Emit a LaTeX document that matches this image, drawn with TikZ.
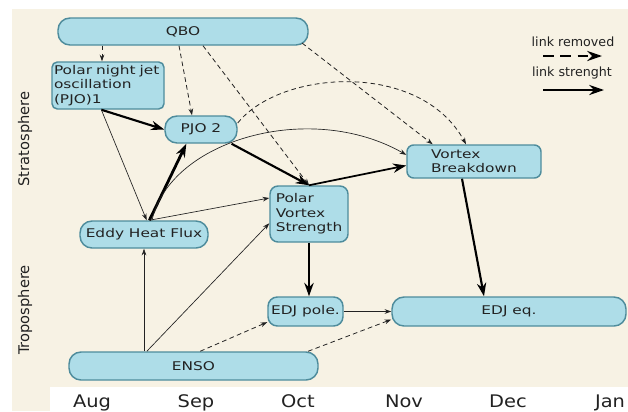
\documentclass[tikz,border=0pt]{standalone}
\usepackage{fontspec}
\setmainfont{DejaVu Sans}
\newfontfamily\boxfont[FakeStretch=1.28]{DejaVu Sans}
\newfontfamily\monthfont[FakeStretch=1.12]{DejaVu Sans}
\usetikzlibrary{arrows.meta}
\definecolor{paper}{RGB}{247,242,228}
\definecolor{boxfill}{RGB}{174,221,232}
\definecolor{boxline}{RGB}{78,140,156}
\definecolor{ink}{RGB}{34,34,34}
\begin{document}
\begin{tikzpicture}[x=0.75pt,y=-0.75pt,
  nodebox/.style={draw=boxline,fill=boxfill,line width=1.1pt,text=ink,inner sep=1.5pt,
    font=\boxfont\fontsize{9}{10.8}\selectfont},
  pill/.style={nodebox,rounded corners=9pt},
  card/.style={nodebox,rounded corners=5pt,align=left},
  weak/.style={-{Stealth[length=5pt,width=3.5pt]},line width=0.5pt,draw=ink},
  strong/.style={-{Stealth[length=10pt,width=7pt]},line width=1.6pt,draw=black},
  removed/.style={-{Stealth[length=5pt,width=3.5pt]},line width=0.6pt,draw=ink,dash pattern=on 3.5pt off 2.5pt},
  legendtext/.style={font=\fontsize{9.5}{11}\selectfont,text=ink},
  month/.style={font=\monthfont\fontsize{13}{15}\selectfont,text=ink,anchor=base},
  sphere/.style={rotate=90,font=\fontsize{11}{13}\selectfont,text=ink}]
\useasboundingbox (0,0) rectangle (628,411);
\fill[paper] (12,9) rectangle (628,411);
\fill[white] (50,387) rectangle (628,411);

\node[pill,minimum width=187.5pt,minimum height=20.25pt] (qbo) at (183,31.5) {QBO};
\node[card,rounded corners=4pt,minimum width=84pt,minimum height=35.25pt,text width=81pt] (pjo1) at (108,85.5) {Polar night jet\\oscillation\\(PJO)1};
\node[pill,minimum width=54pt,minimum height=20.25pt] (pjo2) at (201,129.5) {PJO 2};
\node[pill,minimum width=96pt,minimum height=20.25pt] (ehf) at (144,234.5) {Eddy Heat Flux};
\node[card,rounded corners=6pt,minimum width=58.5pt,minimum height=42pt] (pvs) at (309,214) {Polar\\Vortex\\Strength};
\node[card,minimum width=100.5pt,minimum height=24.75pt] (vb) at (474,161.5) {Vortex\\Breakdown};
\node[pill,rounded corners=7pt,minimum width=56.25pt,minimum height=21.75pt] (edjp) at (305.5,311.5) {EDJ pole.};
\node[pill,minimum width=175.5pt,minimum height=21.75pt] (edjq) at (509,311.5) {EDJ eq.};
\node[pill,minimum width=186.75pt,minimum height=21pt] (enso) at (193.5,366) {ENSO};

\node[sphere] (strat) at (25,139) {Stratosphere};
\node[sphere] (trop) at (25,310) {Troposphere};
\foreach \m/\x in {Aug/92,Sep/196,Oct/298,Nov/404,Dec/508,Jan/610}
  \node[month] (\m) at (\x,407) {\m};

\node[legendtext] (lrm) at (573,42) {link removed};
\node[legendtext] (lst) at (572,73) {link strenght};
\coordinate (rmA) at (543,56);
\coordinate (rmB) at (602,56);
\coordinate (stA) at (543,90);
\coordinate (stB) at (604,90);
\path (rmA) edge[-{Stealth[length=11pt,width=7.5pt]},line width=1.9pt,dash pattern=on 8pt off 5pt] (rmB);
\path (stA) edge[-{Stealth[length=11pt,width=7.5pt]},line width=1.9pt] (stB);

\path ([xshift=-60.75pt]qbo.south) edge[removed] ([xshift=-4.5pt]pjo1.north);
\path ([xshift=-3pt]qbo.south) edge[removed] ([xshift=-6.75pt]pjo2.north);
\path ([xshift=15pt]qbo.south) edge[removed] (pvs.north);
\path ([xshift=-5pt,yshift=2pt]qbo.south east) edge[removed] ([xshift=-31pt]vb.north);
\draw[removed] (pjo2.10) .. controls (280,70) and (420,60) .. ([xshift=-6pt]vb.north);
\path ([xshift=-5pt]pjo1.south) edge[strong] (pjo2.west);
\path ([xshift=-5pt]pjo1.south) edge[weak] ([xshift=2pt]ehf.north);
\path ([xshift=4pt]ehf.north) edge[strong,line width=2.1pt] ([xshift=-11pt]pjo2.south);
\draw[weak] ([xshift=6pt]ehf.north) .. controls (170,140) and (310,100) .. ([yshift=5pt]vb.west);
\path ([xshift=4pt]ehf.north) edge[weak] ([yshift=12pt]pvs.west);
\path (pjo2.-25) edge[strong] (pvs.north);
\path (pvs.north) edge[strong,line width=1.3pt] ([yshift=-3pt]vb.west);
\path (pvs.south) edge[strong] (pvs.south |- edjp.north);
\path ([xshift=-9pt]vb.south) edge[strong] ([xshift=-18.75pt]edjq.north);
\path (edjp.east) edge[weak] (edjq.west);
\path (ehf.south |- enso.north) edge[weak] (ehf.south);
\path ([xshift=-35pt]enso.north) edge[weak] ([yshift=-7pt]pvs.west);
\path ([xshift=5pt]enso.north) edge[removed] ([yshift=-8pt]edjp.west);
\path ([xshift=-8pt]enso.north east) edge[removed] ([yshift=-6pt]edjq.west);
\end{tikzpicture}
\end{document}
